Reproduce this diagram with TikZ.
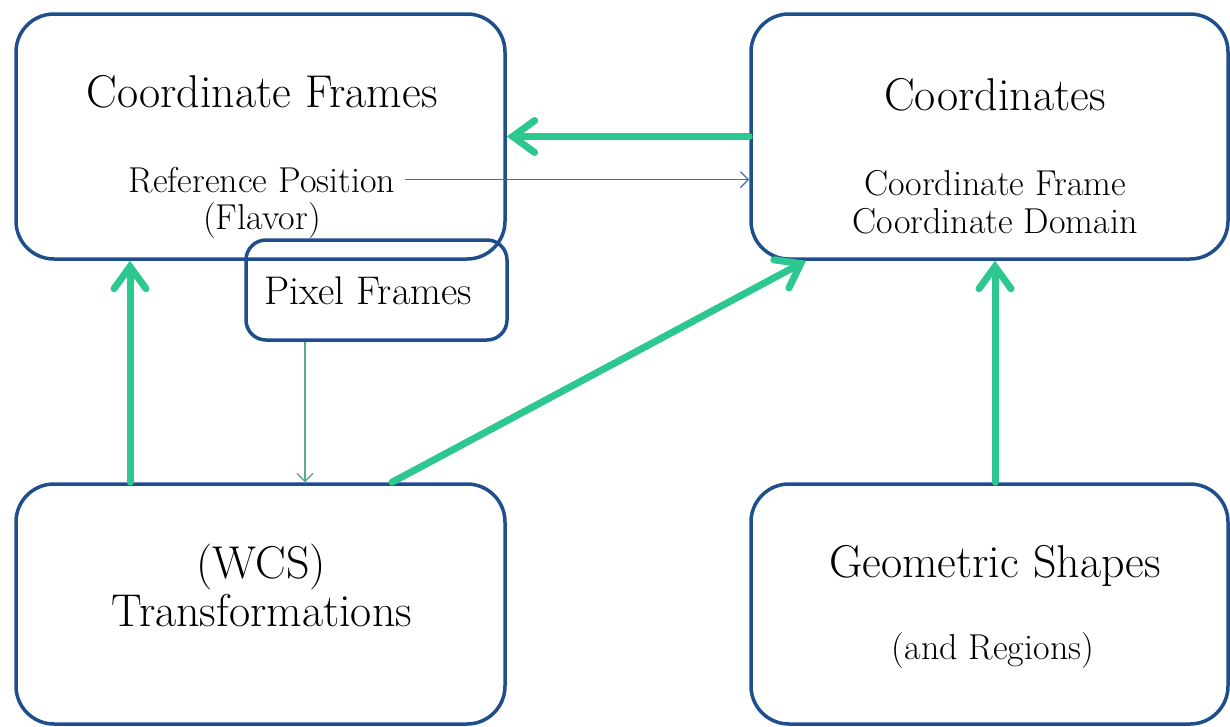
\documentclass[tikz,border=0pt]{standalone}
\usetikzlibrary{arrows.meta}
\definecolor{boxblue}{RGB}{31,78,140}
\definecolor{arrgreen}{RGB}{44,200,143}
\definecolor{thinblue}{RGB}{70,110,170}
\definecolor{thinteal}{RGB}{90,170,150}
\tikzset{
  bigbox/.style={draw=boxblue, line width=3.5pt, rounded corners=38pt, inner sep=0pt},
  smallbox/.style={draw=boxblue, line width=3.5pt, rounded corners=20pt, inner sep=0pt},
  bigtxt/.style={anchor=base, inner sep=0pt, font=\fontsize{46}{54}\selectfont},
  midtxt/.style={anchor=base, inner sep=0pt, font=\fontsize{40}{48}\selectfont},
  smalltxt/.style={anchor=base, inner sep=0pt, font=\fontsize{36}{43}\selectfont},
  greenarrow/.style={draw=arrgreen, line width=7pt, line cap=round,
    -{Straight Barb[length=22pt, width=32pt, line cap=round]}},
  thinarrow/.style={line width=1.3pt, -{Straight Barb[length=8pt, width=16pt]}},
}
\begin{document}
\begin{tikzpicture}[x=1pt, y=-1pt]
\useasboundingbox[fill=white] (0,0) rectangle (1230,726);

% boxes
\node[bigbox, minimum width=489pt, minimum height=245pt] (cf) at (260.5,136.5) {};
\node[bigbox, minimum width=477pt, minimum height=245pt] (co) at (989.5,136.5) {};
\node[smallbox, minimum width=261pt, minimum height=100pt] (px) at (376.5,290) {};
\node[bigbox, minimum width=489pt, minimum height=240pt] (wcs) at (260.5,604) {};
\node[bigbox, minimum width=477pt, minimum height=240pt] (gs) at (989.5,604) {};

% texts
\node[bigtxt] (cft) at (262,107) {Coordinate Frames};
\node[smalltxt] (refpos) at (262,192) {Reference Position};
\node[smalltxt] (flav) at (262,229) {(Flavor)};
\node[bigtxt] (cot) at (995,110) {Coordinates};
\node[smalltxt] (cofr) at (995,195) {Coordinate Frame};
\node[smalltxt] (codo) at (995,233) {Coordinate Domain};
\node[midtxt] (pxt) at (368,304) {Pixel Frames};
\node[bigtxt] (wcst) at (261,578) {(WCS)};
\node[bigtxt] (trt) at (262,626) {Transformations};
\node[bigtxt] (gst) at (995,577) {Geometric Shapes};
\node[smalltxt] (ant) at (993,659) {(and Regions)};

% helper x positions
\coordinate (xa) at (130,0);
\coordinate (xb) at (305,0);
\coordinate (xc) at (392,0);
\coordinate (xd) at (806,0);
\coordinate (xe) at (995,0);

% connectors
\draw[greenarrow] (co.west) -- (cf.east);
\draw[thinarrow, draw=thinblue] ([xshift=10pt]refpos.east) -- (refpos.east -| co.west);
\draw[greenarrow] (xa |- wcs.north) -- (xa |- cf.south);
\draw[thinarrow, draw=thinteal] (xb |- px.south) -- (xb |- wcs.north);
\draw[greenarrow] (xc |- wcs.north) -- (xd |- co.south);
\draw[greenarrow] (xe |- gs.north) -- (xe |- co.south);
\end{tikzpicture}
\end{document}
